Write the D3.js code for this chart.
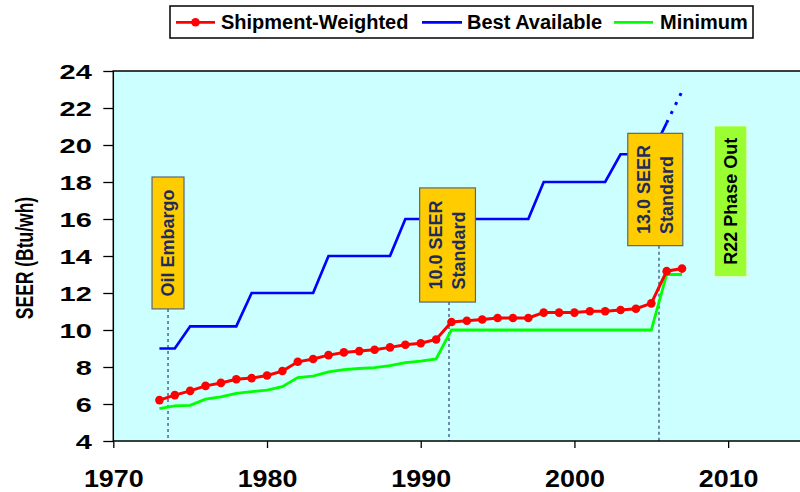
<!DOCTYPE html>
<html><head><meta charset="utf-8">
<script src="https://cdn.jsdelivr.net/npm/d3@7"></script>
<style>
html,body{margin:0;padding:0;background:#fff;}
svg{display:block;font-family:"Liberation Sans",Arial,Helvetica,sans-serif;}
</style></head><body>
<svg id="chart" width="800" height="492"></svg>
<script>
// ---------- data ----------
const years = [1973,1974,1975,1976,1977,1978,1979,1980,1981,1982,1983,1984,1985,1986,1987,1988,1989,1990,
  1991,1992,1993,1994,1995,1996,1997,1998,1999,2000,2001,2002,2003,2004,2005,2006,2007];
const shipmentWeighted = [6.21,6.48,6.71,6.98,7.14,7.34,7.40,7.54,7.78,8.28,8.43,8.64,8.79,8.86,8.93,9.06,9.20,9.28,
  9.49,10.43,10.50,10.57,10.65,10.65,10.65,10.94,10.94,10.94,11.01,11.01,11.08,11.15,11.44,13.18,13.32];
const minimum = [5.75,5.90,5.93,6.26,6.38,6.58,6.67,6.75,6.94,7.43,7.51,7.74,7.86,7.92,7.97,8.08,8.24,8.32,
  8.44,10.0,10.0,10.0,10.0,10.0,10.0,10.0,10.0,10.0,10.0,10.0,10.0,10.0,10.0,13.0,13.0];
const bestYears = [1973,1974,1975,1976,1977,1978,1979,1980,1981,1982,1983,1984,1985,1986,1987,1988,1989,1990,
  1991,1992,1993,1994,1995,1996,1997,1998,1999,2000,2001,2002,2003,2004,2005,2006];
const bestAvailable = [9,9,10.2,10.2,10.2,10.2,12,12,12,12,12,14,14,14,14,14,16,16,
  16,16,16,16,16,16,16,18,18,18,18,18,19.5,19.5,19.5,21.2];
const bestProjectedYears = [2006,2007];
const bestProjected = [21.2,22.9];
const xTicks = [1970,1980,1990,2000,2010];
const yTicks = [4,6,8,10,12,14,16,18,20,22,24];
const seriesNames = ["Shipment-Weighted","Best Available","Minimum"];
const seriesColors = ["#ff0000","#0000ff","#00ff00"];
const eventLabels = [["Oil Embargo"],["10.0 SEER","Standard"],["13.0 SEER","Standard"],["R22 Phase Out"]];
const eventYears = [1973.56,1991.84,2005.5,null];

// ---------- layout ----------
const svg = d3.select("#chart");
const x = d3.scaleLinear().domain([1970,2015]).range([113.3,805]);
const y = d3.scaleLinear().domain([4,24]).range([441,71]);
const FONT = '"Liberation Sans",Arial,Helvetica,sans-serif';

// plot background
svg.append("rect").attr("x",x(1970)).attr("y",y(24))
  .attr("width",x(2015)-x(1970)).attr("height",y(4)-y(24))
  .attr("fill","#ccffff");

// annotation box extents (in data units)
const boxes = [
  {x0:1972.52,x1:1974.6,top:18.27,bottom:11.14,fill:"#ffcc00",stroke:"#5a6675",color:"#1e2b5c"},
  {x0:1989.93,x1:1993.56,top:17.68,bottom:11.51,fill:"#ffcc00",stroke:"#5a6675",color:"#1e2b5c"},
  {x0:2003.47,x1:2007.05,top:20.63,bottom:14.56,fill:"#ffcc00",stroke:"#5a6675",color:"#1e2b5c"},
  {x0:2009.09,x1:2011.22,top:21.04,bottom:12.88,fill:"#99ff33",stroke:"#e6ffd6",color:"#000"}
];
// dashed event lines (under series)
eventYears.forEach((yr,i)=>{
  if(yr==null) return;
  svg.append("line").attr("x1",x(yr)).attr("x2",x(yr))
    .attr("y1",y(boxes[i].bottom)).attr("y2",y(4))
    .attr("stroke","#4a6890").attr("stroke-width",1.5).attr("stroke-dasharray","3,3");
});

// series
const line = d3.line().x(d=>x(d[0])).y(d=>y(d[1]));
svg.append("path").datum(d3.zip(bestYears,bestAvailable)).attr("d",line)
  .attr("fill","none").attr("stroke",seriesColors[1]).attr("stroke-width",2.7);
svg.append("path").datum(d3.zip(bestProjectedYears,bestProjected)).attr("d",line)
  .attr("fill","none").attr("stroke",seriesColors[1]).attr("stroke-width",3)
  .attr("stroke-dasharray","3,7");
svg.append("path").datum(d3.zip(years,minimum)).attr("d",line)
  .attr("fill","none").attr("stroke",seriesColors[2]).attr("stroke-width",2.8);
svg.append("path").datum(d3.zip(years,shipmentWeighted)).attr("d",line)
  .attr("fill","none").attr("stroke",seriesColors[0]).attr("stroke-width",3);
svg.append("g").selectAll("circle").data(d3.zip(years,shipmentWeighted)).join("circle")
  .attr("cx",d=>x(d[0])).attr("cy",d=>y(d[1])).attr("r",4.3).attr("fill",seriesColors[0]);

// annotation boxes
boxes.forEach((b,i)=>{
  const bx0=x(b.x0), bx1=x(b.x1), by0=y(b.top), by1=y(b.bottom);
  svg.append("rect").attr("x",bx0).attr("y",by0).attr("width",bx1-bx0).attr("height",by1-by0)
    .attr("fill",b.fill).attr("stroke",b.stroke).attr("stroke-width",1.2);
  const lines = eventLabels[i];
  const cx=(bx0+bx1)/2, cy=(by0+by1)/2, lh=23.4;
  const g = svg.append("g");
  const texts = lines.map((t,j)=>g.append("text").text(t)
    .attr("font-size",18).attr("font-weight","bold").attr("fill",b.color)
    .attr("dominant-baseline","central"));
  const maxLen = d3.max(texts,t=>t.node().getComputedTextLength());
  texts.forEach((t,j)=>{
    const off = (j-(lines.length-1)/2)*lh;
    t.attr("text-anchor","start")
     .attr("transform",`translate(${cx+off},${cy+maxLen/2}) rotate(-90)`);
  });
});

// frame
svg.append("rect").attr("x",x(1970)).attr("y",y(24))
  .attr("width",x(2015)-x(1970)).attr("height",y(4)-y(24))
  .attr("fill","none").attr("stroke","#000").attr("stroke-width",1.5);

// axes
const ya = svg.append("g").attr("transform",`translate(${x(1970)},0)`)
  .call(d3.axisLeft(y).tickValues(yTicks).tickSize(10).tickSizeOuter(0).tickFormat(d3.format("d")));
ya.select(".domain").remove();
ya.selectAll(".tick line").attr("stroke","#000").attr("stroke-width",1.3);
ya.selectAll(".tick text").attr("x",0).attr("dy",null)
  .attr("dominant-baseline","central")
  .attr("transform","translate(-21.5,0.5) scale(1.45,1)")
  .attr("font-size",20).attr("font-weight","bold").attr("font-family",FONT).attr("fill","#000");

const xa = svg.append("g").attr("transform",`translate(0,${y(4)})`)
  .call(d3.axisBottom(x).tickValues(xTicks).tickSize(7).tickSizeOuter(0).tickFormat(d3.format("d")));
xa.select(".domain").remove();
xa.selectAll(".tick line").attr("stroke","#000").attr("stroke-width",1.3);
xa.selectAll(".tick text").attr("y",0).attr("dy",null)
  .attr("transform","translate(0,45.7) scale(1.12,1)")
  .attr("font-size",24).attr("font-weight","bold").attr("font-family",FONT).attr("fill","#000");

// y title
svg.append("text").text("SEER (Btu/wh)")
  .attr("transform","translate(25,258) rotate(-90) scale(1,1.4)")
  .attr("text-anchor","middle").attr("dominant-baseline","central")
  .attr("font-size",17.5).attr("font-weight","bold").attr("fill","#000");

// legend
const lg = svg.append("g");
lg.append("rect").attr("x",170).attr("y",6).attr("width",583).attr("height",32)
  .attr("fill","#fff").attr("stroke","#000").attr("stroke-width",1.5);
const legendItems = [
  {x0:176,x1:215,tx:221},
  {x0:422,x1:462,tx:467},
  {x0:614,x1:653,tx:660}
];
[0,1,2].forEach((si,k)=>{
  const it = legendItems[k];
  lg.append("line").attr("x1",it.x0).attr("x2",it.x1).attr("y1",22.3).attr("y2",22.3)
    .attr("stroke",seriesColors[si]).attr("stroke-width",2.8);
  if(si===0) lg.append("circle").attr("cx",(it.x0+it.x1)/2).attr("cy",22.3).attr("r",4.3).attr("fill",seriesColors[0]);
  lg.append("text").text(seriesNames[si]).attr("x",it.tx).attr("y",29.3)
    .attr("font-size",20).attr("font-weight","bold").attr("fill","#000");
});
</script>
</body></html>
